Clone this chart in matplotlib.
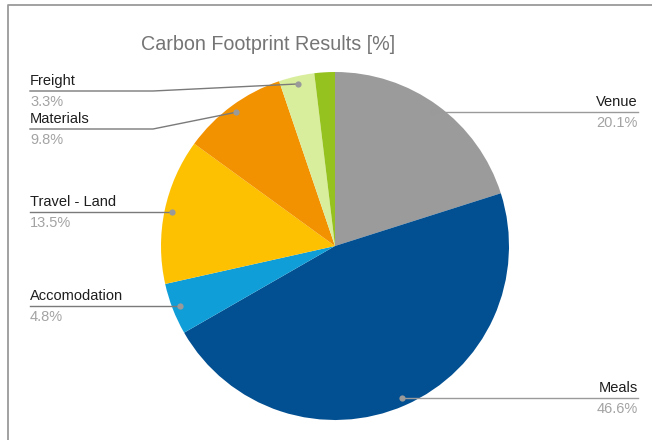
import numpy as np
import matplotlib.pyplot as plt

plt.rcParams['font.family'] = ['Liberation Sans', 'DejaVu Sans']

## Chart data
labels = ["Venue", "Meals", "Accomodation", "Travel - Land", "Materials", "Freight", ""]
values = [20.1, 46.6, 4.8, 13.5, 9.8, 3.3, 1.9]
colors = ["#9b9b9b", "#024f91", "#109ed9", "#fdc102", "#f39200", "#d9ee9d", "#96c220"]

W, H = 652, 440

def Y(py):
  # pixel row -> data y (axes spans the whole figure)
  return H - py

fig = plt.figure(figsize=(W/100, H/100), dpi=100)
ax = fig.add_axes([0, 0, 1, 1])

# frame of the chart area
ax.plot([8, 8, W], [0, Y(5), Y(5)], color="#9a9a9a", lw=1.3, solid_capstyle='butt')

cx, cy, r = 335, 246, 174
wedges, _ = ax.pie(values, colors=colors, startangle=90, counterclock=False,
                   center=(cx, Y(cy)), radius=r, frame=True,
                   wedgeprops=dict(linewidth=0))
ax.set_xlim(0, W)
ax.set_ylim(0, H)
ax.set_aspect('equal')
ax.axis('off')

ax.text(268, Y(44), "Carbon Footprint Results [%]", ha='center', va='center',
        fontsize=14.2, color="#757575")

# fixed label rows for the two crowded slices at the top left
fixed_rows = {"Freight": 91, "Materials": 129}

for w, lab, val in zip(wedges, labels, values):
  if not lab:
    continue
  mid = np.deg2rad((w.theta1 + w.theta2) / 2)
  dx = cx + 0.955 * r * np.cos(mid)
  dy = Y(cy) + 0.955 * r * np.sin(mid)
  left = dx < cx
  if lab in fixed_rows:
    ly = Y(fixed_rows[lab])
    ax.plot([30, 153, dx], [ly, ly, dy], color="#7a7a7a", lw=1)
  else:
    ly = dy
    if left:
      ax.plot([30, dx], [ly, ly], color="#7a7a7a", lw=1)
    else:
      ax.plot([dx, 638], [ly, ly], color="#9a9a9a", lw=1)
  ax.plot(dx, dy, 'o', color="#9a9a9a", ms=4.5, mec='none')
  tx = 30 if left else 638
  ha = 'left' if left else 'right'
  ax.text(tx, ly + 10, lab, ha=ha, va='center', fontsize=10.5, color="#1e1e1e")
  ax.text(tx, ly - 11, f"{val:.1f}%", ha=ha, va='center', fontsize=10.5, color="#a3a3a3")

fig.savefig("out.png", dpi=100)
